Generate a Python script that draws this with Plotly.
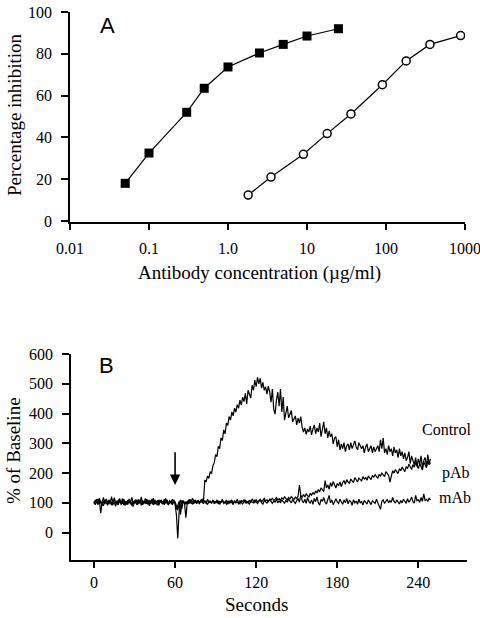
import plotly.graph_objects as go

# ---------------- Panel A data ----------------
mab_conc = [0.05, 0.1, 0.3, 0.5, 1.0, 2.5, 5, 10, 25]
mab_inhib = [18, 32.5, 52, 63.5, 73.7, 80.4, 84.5, 88.5, 92]
pab_conc = [1.8, 3.5, 9, 18, 36, 90, 180, 360, 880]
pab_inhib = [12.4, 21, 31.9, 41.8, 51.2, 65.2, 76.6, 84.5, 88.7]

xa_tickvals = [0.01, 0.1, 1, 10, 100, 1000]
xa_ticktext = ["0.01", "0.1", "1.0", "10", "100", "1000"]
ya_tickvals = [0, 20, 40, 60, 80, 100]

# ---------------- Panel B data (1 s sampling, 0..249 s) ----------------
seconds = list(range(250))
control = [
    105, 95, 112, 98, 108, 65, 102, 118, 96, 104,
    92, 110, 100, 121, 97, 103, 88, 107, 99, 115,
    94, 102, 109, 91, 105, 98, 113, 96, 101, 87,
    104, 111, 95, 108, 99, 120, 93, 102, 106, 97,
    110, 90, 103, 98, 116, 95, 104, 101, 92, 109,
    100, 96, 112, 99, 105, 94, 107, 101, 97, 111,
    95, 60, -20, 70, 95, 108, 102, 98, 50, 100,
    110, 98, 106, 115, 100, 104, 97, 109, 102, 108,
    112, 105, 175, 172, 190, 182, 205, 198, 225, 235,
    262, 255, 290, 282, 318, 310, 345, 332, 368, 360,
    390, 378, 405, 392, 418, 405, 430, 418, 445, 428,
    455, 440, 468, 432, 478, 465, 452, 495, 478, 512,
    490, 522, 500, 518, 485, 505, 478, 490, 465, 492,
    472, 438, 482, 415, 398, 445, 472, 425, 482, 405,
    455, 378, 405, 425, 385, 398, 410, 372, 385, 392,
    362, 385, 368, 390, 355, 338, 352, 330, 348, 338,
    358, 328, 348, 362, 332, 352, 338, 368, 322, 348,
    372, 332, 352, 318, 342, 322, 332, 298, 318, 322,
    288, 312, 278, 298, 282, 302, 272, 292, 298, 278,
    302, 282, 298, 308, 288, 278, 302, 292, 282, 292,
    268, 288, 298, 272, 282, 292, 268, 288, 272, 282,
    292, 272, 312, 282, 318, 268, 282, 262, 292, 272,
    282, 258, 288, 268, 278, 252, 282, 258, 272, 248,
    268, 242, 252, 272, 232, 258, 238, 228, 252, 222,
    248, 228, 258, 218, 242, 252, 222, 262, 232, 248,
]
pab = [
    98, 110, 102, 94, 115, 100, 90, 106, 99, 113,
    104, 95, 108, 100, 92, 117, 101, 96, 110, 103,
    99, 114, 93, 105, 101, 95, 109, 102, 118, 97,
    106, 100, 93, 112, 104, 97, 108, 99, 115, 101,
    94, 107, 102, 113, 96, 105, 100, 92, 110, 103,
    108, 97, 101, 115, 99, 94, 106, 102, 112, 98,
    104, 85, 75, 95, 110, 80, 105, 99, 103, 97,
    106, 112, 100, 104, 98, 110, 103, 107, 100, 105,
    102, 109, 104, 98, 112, 101, 106, 99, 108, 103,
    100, 110, 96, 105, 102, 112, 99, 104, 108, 95,
    107, 101, 110, 98, 105, 103, 112, 100, 97, 108,
    104, 111, 99, 106, 102, 109, 100, 113, 105, 101,
    110, 104, 107, 112, 103, 108, 115, 106, 110, 104,
    113, 109, 116, 107, 112, 118, 110, 114, 108, 117,
    112, 120, 115, 110, 118, 113, 121, 116, 111, 119,
    115, 122, 160, 125, 118, 128, 120, 130, 124, 119,
    132, 126, 135, 128, 140, 133, 145, 137, 150, 142,
    138, 175, 150, 160, 145, 168, 155, 172, 160, 150,
    165, 158, 170, 155, 168, 175, 162, 178, 170, 165,
    180, 172, 168, 185, 176, 170, 183, 178, 174, 188,
    180, 185, 176, 190, 183, 178, 192, 186, 195, 188,
    182, 196, 190, 200, 194, 188, 205, 198, 192, 170,
    195, 208, 200, 212, 205, 198, 215, 208, 220, 212,
    205, 222, 215, 230, 218, 212, 228, 220, 235, 225,
    215, 232, 222, 210, 238, 226, 218, 240, 228, 235,
]
mab = [
    102, 94, 108, 112, 97, 105, 99, 90, 110, 101,
    96, 107, 103, 92, 111, 98, 104, 100, 93, 108,
    105, 97, 113, 101, 95, 109, 100, 104, 91, 106,
    99, 103, 110, 96, 107, 92, 105, 101, 98, 112,
    103, 97, 106, 100, 93, 110, 102, 108, 96, 104,
    99, 106, 94, 103, 110, 100, 97, 105, 93, 108,
    100, 78, 90, 105, 60, 98, 107, 101, 96, 104,
    98, 106, 101, 95, 108, 102, 99, 104, 96, 110,
    103, 97, 108, 100, 94, 106, 102, 99, 110, 97,
    104, 100, 107, 95, 103, 109, 98, 102, 96, 105,
    99, 106, 101, 94, 108, 100, 103, 97, 107, 101,
    96, 104, 110, 99, 102, 95, 107, 103, 100, 109,
    102, 98, 105, 110, 101, 96, 108, 103, 99, 106,
    110, 104, 98, 107, 102, 112, 100, 106, 101, 109,
    104, 99, 108, 102, 113, 105, 100, 110, 103, 98,
    107, 115, 102, 125, 108, 100, 112, 98, 118, 104,
    99, 110, 95, 115, 104, 120, 100, 92, 112, 105,
    118, 102, 96, 108, 125, 100, 110, 94, 106, 114,
    103, 98, 112, 105, 95, 110, 100, 115, 97, 108,
    104, 92, 110, 100, 106, 95, 112, 99, 105, 93,
    108, 102, 96, 110, 100, 94, 107, 103, 98, 112,
    100, 95, 78, 105, 110, 98, 104, 112, 100, 107,
    102, 118, 105, 99, 110, 103, 96, 108, 100, 112,
    106, 98, 114, 102, 108, 120, 104, 99, 125, 107,
    110, 102, 118, 105, 130, 108, 112, 106, 115, 110,
]
xb_tickvals = [0, 60, 120, 180, 240]
yb_tickvals = [0, 100, 200, 300, 400, 500, 600]

SERIF = "Liberation Serif"
SANS = "Liberation Sans"

fig = go.Figure()

# Panel A traces
fig.add_trace(go.Scatter(
    x=mab_conc, y=mab_inhib, mode="lines+markers", xaxis="x", yaxis="y",
    line=dict(color="black", width=1.2),
    marker=dict(symbol="square", size=9, color="black"),
    showlegend=False))
fig.add_trace(go.Scatter(
    x=pab_conc, y=pab_inhib, mode="lines+markers", xaxis="x", yaxis="y",
    line=dict(color="black", width=1.2),
    marker=dict(symbol="circle", size=8, color="white",
                line=dict(color="black", width=1.5)),
    showlegend=False))

# Panel B traces
for series in (mab, pab, control):
    fig.add_trace(go.Scatter(
        x=seconds, y=series, mode="lines", xaxis="x2", yaxis="y2",
        line=dict(color="black", width=1.2),
        showlegend=False))

axis_common = dict(
    showgrid=False, zeroline=False, showline=True, linecolor="black",
    linewidth=1.8, ticks="outside", tickwidth=1.5,
    tickcolor="black", tickfont=dict(family=SERIF, size=16, color="black"),
    mirror=False, automargin=False, ticklabeloverflow="allow",
)

fig.update_layout(
    width=480, height=618,
    margin=dict(l=0, r=0, t=0, b=0, autoexpand=False),
    paper_bgcolor="white", plot_bgcolor="white",
    xaxis=dict(domain=[70 / 480, 465 / 480], type="log",
               range=[-2, 3], tickvals=xa_tickvals, ticktext=xa_ticktext,
               anchor="y", ticklen=6, ticklabelstandoff=5, **axis_common),
    yaxis=dict(domain=[1 - 222 / 618, 1 - 12 / 618], range=[-0.5, 100],
               tickvals=ya_tickvals, anchor="x", ticklen=7,
               ticklabelstandoff=6, **axis_common),
    xaxis2=dict(domain=[71 / 480, 467 / 480], range=[-17, 276],
                tickvals=xb_tickvals, anchor="y2", ticklen=6,
                ticklabelstandoff=1, **axis_common),
    yaxis2=dict(domain=[1 - 560 / 618, 1 - 354 / 618], range=[-92, 600],
                tickvals=yb_tickvals, anchor="x2", ticklen=7,
                ticklabelstandoff=6, **axis_common),
)


def paper_text(text, px, py, size, family=SERIF, angle=0, xanchor="center"):
    return dict(text=text, x=px / 480, y=1 - py / 618, xref="paper",
                yref="paper", xanchor=xanchor, yanchor="middle",
                showarrow=False, textangle=angle,
                font=dict(family=family, size=size, color="black"))


annotations = [
    paper_text("A", 107, 25, 22, SANS),
    paper_text("B", 106, 365, 22, SANS),
    paper_text("Percentage inhibition", 14, 115, 19, angle=-90),
    paper_text("Antibody concentration (µg/ml)", 259, 273, 19),
    paper_text("% of Baseline", 13, 451, 19, angle=-90),
    paper_text("Seconds", 256, 604, 19),
    paper_text("Control", 473, 429, 16, xanchor="right"),
    paper_text("pAb", 472, 473, 16, xanchor="right"),
    paper_text("mAb", 473, 497, 16, xanchor="right"),
    # injection arrow
    dict(text="", x=60, y=160, ax=60, ay=275, xref="x2", yref="y2",
         axref="x2", ayref="y2", showarrow=True, arrowhead=2,
         arrowsize=1.3, arrowwidth=1.6, arrowcolor="black", standoff=0),
]
fig.update_layout(annotations=annotations)

fig.write_html("out.html")
